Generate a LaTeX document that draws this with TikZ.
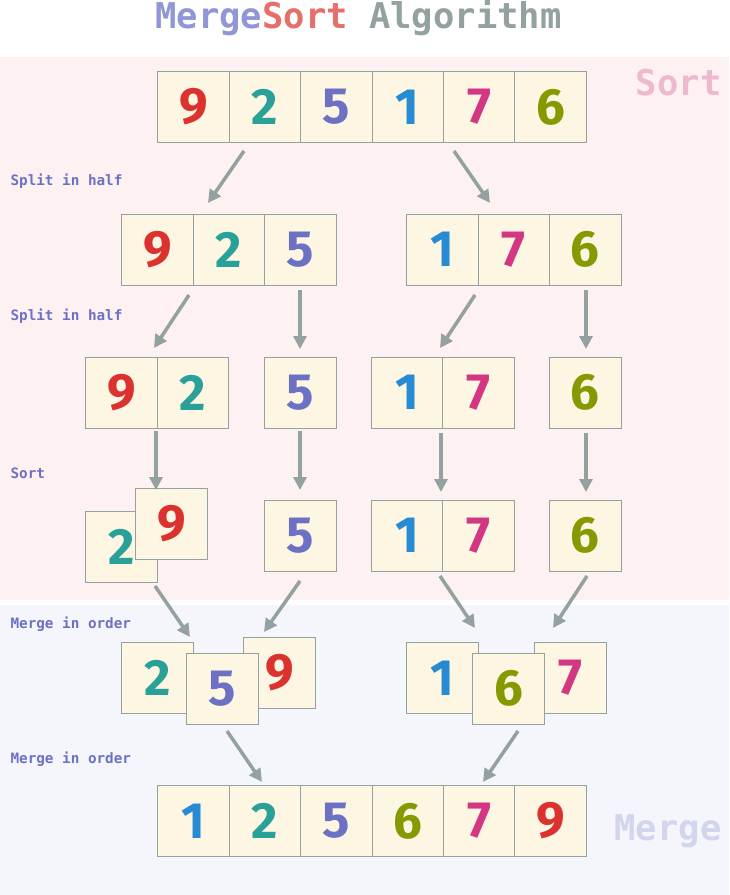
\documentclass[tikz,border=0pt]{standalone}
\usepackage{fontspec}
\setmainfont{Fira Sans}
\newfontfamily\monofont{DejaVu Sans Mono}
\usetikzlibrary{arrows.meta}
\definecolor{sred}{HTML}{DC322F}
\definecolor{scyan}{HTML}{2AA198}
\definecolor{sviolet}{HTML}{6C71C4}
\definecolor{sblue}{HTML}{268BD2}
\definecolor{smag}{HTML}{D33682}
\definecolor{sgreen}{HTML}{859900}
\definecolor{base3}{HTML}{FDF6E3}
\definecolor{base1}{HTML}{93A1A1}
\definecolor{sortbg}{HTML}{FDF2F1}
\definecolor{mergebg}{HTML}{F5F6FB}
\definecolor{titlemerge}{HTML}{9197D6}
\definecolor{titlesort}{HTML}{E5706A}
\definecolor{sortlbl}{HTML}{EEB8CF}
\definecolor{mergelbl}{HTML}{D2D5EE}
\tikzset{
  box/.style={draw=base1, line width=1pt, fill=base3, minimum width=71.4pt, minimum height=71pt, inner sep=0pt, font=\fontsize{51}{51}\selectfont\bfseries},
  arr/.style={draw=base1, line width=3.5pt, -{Triangle[length=13pt,width=13pt]}},
  steplbl/.style={anchor=west, text=sviolet, font=\monofont\bfseries\fontsize{14.3}{14.3}\selectfont},
  biglbl/.style={font=\monofont\bfseries\fontsize{35.5}{35.5}\selectfont}
}
\newcommand{\bx}[5]{\node[box, text=#5] (#1) at (#2,#3) {#4};}
\begin{document}
\begin{tikzpicture}[x=1pt,y=-1pt]
\useasboundingbox (0,0) rectangle (729,895);
\fill[white] (0,0) rectangle (729,895);
\fill[sortbg] (0,57) rectangle (729,600);
\fill[mergebg] (0,605) rectangle (729,895);
% title
\node[biglbl] (title) at (358.5,18) {\textcolor{titlemerge}{Merge}\textcolor{titlesort}{Sort} \textcolor{base1}{Algorithm}};
\node[biglbl, text=sortlbl, anchor=east] (sortlabel) at (725,83) {Sort};
\node[biglbl, text=mergelbl, anchor=east] (mergelabel) at (725,831) {Merge};
% step labels
\node[steplbl] (l1) at (7,181) {Split in half};
\node[steplbl] (l2) at (7,316) {Split in half};
\node[steplbl] (l3) at (7,473) {Sort};
\node[steplbl] (l4) at (7,624) {Merge in order};
\node[steplbl] (l5) at (7,759) {Merge in order};
% row 1
\bx{a1}{193.5}{107}{9}{sred}
\bx{a2}{264.9}{107}{2}{scyan}
\bx{a3}{336.3}{107}{5}{sviolet}
\bx{a4}{407.7}{107}{1}{sblue}
\bx{a5}{479.1}{107}{7}{smag}
\bx{a6}{550.5}{107}{6}{sgreen}
% row 2
\bx{b1}{157.5}{249.5}{9}{sred}
\bx{b2}{228.9}{249.5}{2}{scyan}
\bx{b3}{300.3}{249.5}{5}{sviolet}
\bx{b4}{442.5}{249.5}{1}{sblue}
\bx{b5}{513.9}{249.5}{7}{smag}
\bx{b6}{585.3}{249.5}{6}{sgreen}
% row 3
\bx{c1}{121.5}{392.5}{9}{sred}
\bx{c2}{192.9}{392.5}{2}{scyan}
\bx{c3}{300.3}{392.5}{5}{sviolet}
\bx{c4}{407.2}{392.5}{1}{sblue}
\bx{c5}{478.6}{392.5}{7}{smag}
\bx{c6}{585.3}{392.5}{6}{sgreen}
% row 4
\bx{d2}{121.5}{547}{2}{scyan}
\bx{d1}{171.5}{524}{9}{sred}
\bx{d3}{300.3}{535.5}{5}{sviolet}
\bx{d4}{407.2}{535.5}{1}{sblue}
\bx{d5}{478.6}{535.5}{7}{smag}
\bx{d6}{585.3}{535.5}{6}{sgreen}
% row 5
\bx{e1}{157.5}{678}{2}{scyan}
\bx{e3}{279.5}{673}{9}{sred}
\bx{e2}{222.5}{688.5}{5}{sviolet}
\bx{e4}{442.5}{678}{1}{sblue}
\bx{e6}{570.5}{678}{7}{smag}
\bx{e5}{508.5}{688.5}{6}{sgreen}
% row 6
\bx{f1}{193.5}{821}{1}{sblue}
\bx{f2}{264.9}{821}{2}{scyan}
\bx{f3}{336.3}{821}{5}{sviolet}
\bx{f4}{407.7}{821}{6}{sgreen}
\bx{f5}{479.1}{821}{7}{smag}
\bx{f6}{550.5}{821}{9}{sred}
% arrow end points
\coordinate (p1s) at (244,151); \coordinate (p1e) at (208,203);
\coordinate (p2s) at (454,151); \coordinate (p2e) at (490,203);
\coordinate (p3s) at (189,295); \coordinate (p3e) at (154,348);
\coordinate (p4s) at (300,290); \coordinate (p4e) at (300,349);
\coordinate (p5s) at (475,295); \coordinate (p5e) at (440,348);
\coordinate (p6s) at (586,290); \coordinate (p6e) at (586,349);
\coordinate (p7s) at (156,431); \coordinate (p7e) at (156,490);
\coordinate (p8s) at (300,431); \coordinate (p8e) at (300,490);
\coordinate (p9s) at (441,433); \coordinate (p9e) at (441,492);
\coordinate (p10s) at (586,433); \coordinate (p10e) at (586,492);
\coordinate (p11s) at (155,586); \coordinate (p11e) at (190,637);
\coordinate (p12s) at (300,581); \coordinate (p12e) at (264,632);
\coordinate (p13s) at (440,576); \coordinate (p13e) at (475,628);
\coordinate (p14s) at (587,576); \coordinate (p14e) at (553,628);
\coordinate (p15s) at (227,731); \coordinate (p15e) at (262,782);
\coordinate (p16s) at (518,731); \coordinate (p16e) at (483,782);
\foreach \i in {1,...,16} {\draw[arr] (p\i s) -- (p\i e);}
\end{tikzpicture}
\end{document}
